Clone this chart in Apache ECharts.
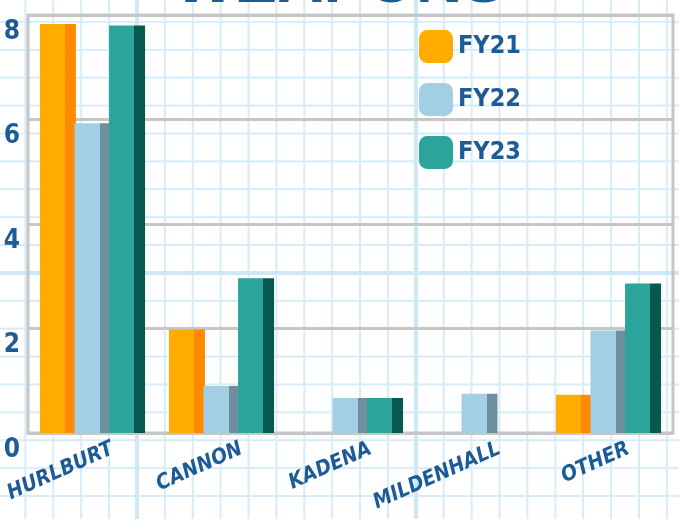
<!DOCTYPE html>
<html>
<head>
<meta charset="utf-8">
<script src="https://cdn.jsdelivr.net/npm/echarts@6/dist/echarts.min.js"></script>
<style>
html, body { margin: 0; padding: 0; }
body {
    width: 679px; height: 519px; overflow: hidden;
    background-color: #fff;
    /* graph paper */
    background-image:
        linear-gradient(90deg, #cfe8f7 4px, transparent 4px),
        linear-gradient(#cfe8f7 4px, transparent 4px),
        linear-gradient(90deg, #d6ecf9 2px, transparent 2px),
        linear-gradient(#d6ecf9 2px, transparent 2px);
    background-size: 279px 279px, 279px 279px, 27.9px 27.9px, 27.9px 27.9px;
    background-position: 135px 0, 0 271px, 24.4px 0, 0 20.9px;
}
#main { width: 679px; height: 519px; }
</style>
</head>
<body>
<div id="main"></div>
<script>
// 基地
var categories = ['HURLBURT', 'CANNON', 'KADENA', 'MILDENHALL', 'OTHER'];
var seriesNames = ['FY21', 'FY22', 'FY23'];
var fy21 = [7.83, 1.98, 0, 0, 0.73];
var fy22 = [5.93, 0.9, 0.67, 0.75, 1.96];
var fy23 = [7.8, 2.96, 0.67, 0, 2.86];
var yTicks = [0, 2, 4, 6, 8];

// 正面 / 侧面 颜色
var frontColors = ['#ffab00', '#a2cfe4', '#2ba59c'];
var sideColors = ['#ff8a00', '#6f8f9d', '#07594f'];

var blue = '#1d5b97';
var font = '"DejaVu Sans Condensed", "Liberation Sans Narrow", sans-serif';

var dom = document.getElementById('main');
var myChart = echarts.init(dom);

function bar3d(i) {
    // 伪3D：正面 + 右侧暗面
    return {
        type: 'linear', x: 0, y: 0, x2: 1, y2: 0,
        colorStops: [
            {offset: 0, color: frontColors[i]},
            {offset: 0.7, color: frontColors[i]},
            {offset: 0.7, color: sideColors[i]},
            {offset: 1, color: sideColors[i]}
        ]
    };
}

var allData = [fy21, fy22, fy23];
var series = [];
var legendData = [];
for (var i = 0; i < seriesNames.length; i++) {
    series.push({
        name: seriesNames[i],
        type: 'bar',
        barWidth: 36,
        barGap: '-4%',
        itemStyle: { color: bar3d(i) },
        data: allData[i]
    });
    legendData.push({ name: seriesNames[i], itemStyle: { color: frontColors[i] } });
}

var option = {
    animation: false,
    graphic: [{
        type: 'text',
        left: 'center',
        top: -48,
        style: {
            text: 'WEAPONS',
            font: 'bold 64px "Liberation Sans"',
            fill: blue
        }
    }],
    legend: {
        orient: 'vertical',
        left: 414,
        top: 25,
        icon: 'roundRect',
        itemWidth: 34,
        itemHeight: 33,
        itemGap: 20,
        textStyle: { color: blue, fontSize: 25, fontWeight: 'bold', fontFamily: font, padding: [4, 0, 0, 0] },
        data: legendData
    },
    grid: {
        left: 28,
        right: 6,
        top: 15,
        bottom: 86,
        outerBoundsMode: 'none',
        show: true,
        borderColor: '#c6c6c6',
        borderWidth: 3,
        backgroundColor: 'transparent'
    },
    xAxis: {
        type: 'category',
        data: categories,
        axisLine: { show: false },
        axisTick: { show: false },
        axisLabel: {
            rotate: 24,
            margin: 24,
            padding: [0, -22, 0, 0],
            color: blue,
            fontSize: 21,
            fontWeight: 'bold',
            fontStyle: 'italic',
            fontFamily: font
        }
    },
    yAxis: {
        type: 'value',
        min: yTicks[0],
        max: yTicks[yTicks.length - 1],
        interval: 2,
        axisLine: { show: false },
        axisTick: { show: false },
        splitLine: { lineStyle: { color: '#c6c6c6', width: 3 } },
        axisLabel: {
            margin: 8,
            verticalAlign: 'top',
            padding: [4, 0, 0, 0],
            color: blue,
            fontSize: 26,
            fontWeight: 'bold',
            fontFamily: font
        }
    },
    series: series
};

if (option && typeof option === "object") {
    myChart.setOption(option, true);
}
</script>
</body>
</html>
